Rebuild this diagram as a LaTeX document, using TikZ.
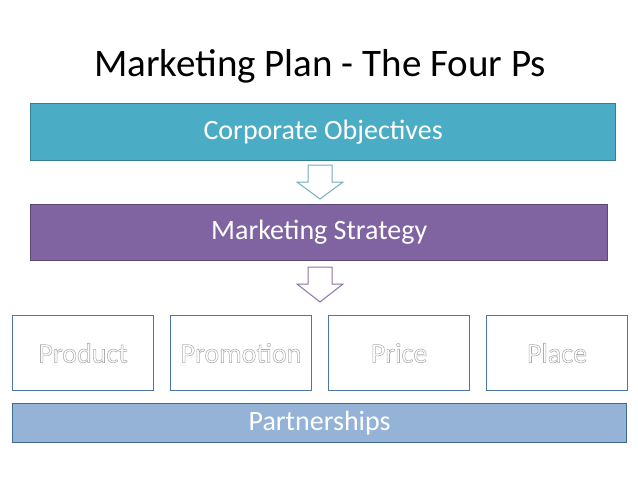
\documentclass[tikz,border=0pt]{standalone}
\usepackage{fontspec}
\setmainfont{Carlito}
\definecolor{objfill}{HTML}{4BACC6}
\definecolor{objline}{HTML}{357D91}
\definecolor{strfill}{HTML}{8064A2}
\definecolor{strline}{HTML}{5C4776}
\definecolor{parfill}{HTML}{95B3D7}
\definecolor{parline}{HTML}{3F6A94}
\definecolor{pline}{HTML}{4A76A8}
\definecolor{arr1}{HTML}{6FAFBF}
\definecolor{arr2}{HTML}{8A74AA}
\tikzset{
  bar/.style={draw, line width=1.3pt, anchor=north west, inner sep=0pt, text=white,
    font=\fontsize{28}{32}\selectfont},
  pbox/.style={draw=pline, line width=1.1pt, fill=white, anchor=north west, inner sep=0pt,
    minimum width=141pt, minimum height=75pt, font=\fontsize{28}{32}\selectfont},
  blockarrow/.style={fill=white, line width=1pt, line join=miter}
}
\newcommand{\emb}[1]{\textcolor{white}{\special{pdf:literal direct 2 Tr 0.55 w 0.68 0.68 0.68 RG}#1\special{pdf:literal direct 0 Tr}}}
\begin{document}
\begin{tikzpicture}[x=1pt,y=-1pt]
\useasboundingbox[fill=white] (0,0) rectangle (638,479);
\node (title) at (320,66) {\fontsize{39}{44}\selectfont Marketing Plan - The Four Ps};
\node[bar, fill=objfill, draw=objline, minimum width=585pt, minimum height=57pt] (obj) at (30,103) {Corporate Objectives};
\node[bar, fill=strfill, draw=strline, minimum width=577pt, minimum height=56pt] (str) at (30,204) {Marketing Strategy};
\node[pbox] (prod) at (12,315) {\emb{Product}};
\node[pbox] (prom) at (170,315) {\emb{Promotion}};
\node[pbox] (price) at (328,315) {\emb{Price}};
\node[pbox] (place) at (486,315) {\emb{Place}};
\node[bar, fill=parfill, draw=parline, minimum width=614pt, minimum height=39pt] (par) at (12,403) {Partnerships};
% block arrows
\draw[blockarrow, draw=arr1] (308,165) -- (332,165) -- (332,182) -- (343,182) -- (320,199) -- (297,182) -- (308,182) -- cycle;
\draw[blockarrow, draw=arr2] (308,267) -- (332,267) -- (332,284) -- (343,284) -- (320,302) -- (297,284) -- (308,284) -- cycle;
\end{tikzpicture}
\end{document}
